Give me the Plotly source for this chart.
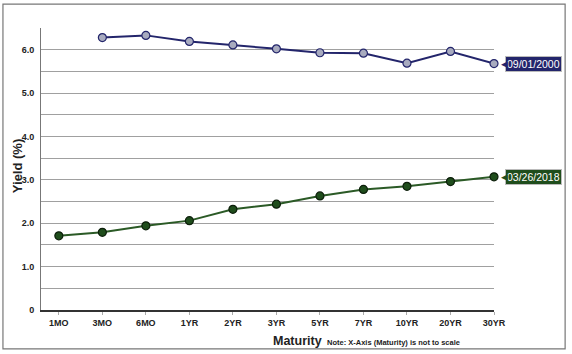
import plotly.graph_objects as go

maturities = ["1MO", "3MO", "6MO", "1YR", "2YR", "3YR", "5YR", "7YR", "10YR", "20YR", "30YR"]
y2000_cats = ["3MO", "6MO", "1YR", "2YR", "3YR", "5YR", "7YR", "10YR", "20YR", "30YR"]
y2000 = [6.28, 6.33, 6.19, 6.11, 6.02, 5.93, 5.92, 5.69, 5.96, 5.68]
y2018 = [1.71, 1.79, 1.94, 2.06, 2.32, 2.44, 2.63, 2.78, 2.85, 2.96, 3.07]
label2000 = "09/01/2000"
label2018 = "03/26/2018"
ytickvals = [0, 0.5, 1, 1.5, 2, 2.5, 3, 3.5, 4, 4.5, 5, 5.5, 6, 6.5]
yticktext = ["0", "", "1.0", "", "2.0", "", "3.0", "", "4.0", "", "5.0", "", "6.0", ""]

navy = "#23256b"
green = "#1f4d1c"
FONT = "Arial, Liberation Sans, sans-serif"

fig = go.Figure()
fig.add_trace(go.Scatter(
    x=y2000_cats, y=y2000, mode="lines+markers", cliponaxis=False,
    line=dict(color=navy, width=2),
    marker=dict(size=8, color="#a8abbf", line=dict(color=navy, width=1.2)),
    hoverinfo="skip", showlegend=False))
fig.add_trace(go.Scatter(
    x=maturities, y=y2018, mode="lines+markers", cliponaxis=False,
    line=dict(color="#2b5a26", width=2),
    marker=dict(size=8, color=green, line=dict(color="#0d1f0b", width=1.2)),
    hoverinfo="skip", showlegend=False))

for lab, yv, col in [(label2000, y2000[-1], navy), (label2018, y2018[-1], green)]:
    fig.add_annotation(x=maturities[-1], y=yv, xref="x", yref="y", text=lab,
                       showarrow=False, xanchor="left", yanchor="middle", xshift=11,
                       bgcolor=col, bordercolor="#bbbbbb", borderwidth=1, borderpad=1,
                       font=dict(family=FONT, size=10.5, color="white"))
    fig.add_annotation(x=maturities[-1], y=yv, xref="x", yref="y", text="◀",
                       showarrow=False, xanchor="left", yanchor="middle", xshift=5,
                       font=dict(family="DejaVu Sans", size=9, color=col))

fig.add_annotation(x=-0.053, y=0.51, xref="paper", yref="paper", text="<b>Yield (%)</b>",
                   textangle=-90, showarrow=False, xanchor="center", yanchor="middle",
                   font=dict(family=FONT, size=13, color="#222"))
fig.add_annotation(x=0.566, y=-0.11, xref="paper", yref="paper", text="<b>Maturity</b>",
                   showarrow=False, xanchor="center", yanchor="middle",
                   font=dict(family=FONT, size=12.5, color="#222"))
fig.add_annotation(x=0.626, y=-0.115, xref="paper", yref="paper",
                   text="<b>Note: X-Axis (Maturity) is not to scale</b>",
                   showarrow=False, xanchor="left", yanchor="middle",
                   font=dict(family=FONT, size=7.5, color="#222"))

fig.add_shape(type="rect", xref="paper", yref="paper", x0=-0.084, x1=1.157, y0=-0.138, y1=1.085,
              line=dict(color="#777777", width=1.2), fillcolor="rgba(0,0,0,0)")

fig.update_layout(
    width=572, height=354, margin=dict(l=41, r=78, t=28, b=44, autoexpand=False),
    paper_bgcolor="white", plot_bgcolor="white",
    font=dict(family=FONT, color="#222"),
    xaxis=dict(type="category", categoryorder="array", categoryarray=maturities,
               range=[-0.41, 10], showgrid=False, zeroline=False, automargin=False,
               showline=True, linecolor="#333333", linewidth=1.5,
               ticks="outside", ticklen=3, tickcolor="#aaaaaa",
               tickfont=dict(family=FONT, size=9, color="#222"),
               tickprefix="<b>", ticksuffix="</b>"),
    yaxis=dict(range=[0, 6.5], tickvals=ytickvals, ticktext=[f"<b>{t}</b>" for t in yticktext],
               showgrid=True, gridcolor="#a0a0a0", gridwidth=1, zeroline=False, automargin=False,
               showline=True, linecolor="#777777", linewidth=1,
               tickfont=dict(family=FONT, size=9, color="#222"), ticks="", ticklabelstandoff=4),
)

fig.write_html("out.html")
